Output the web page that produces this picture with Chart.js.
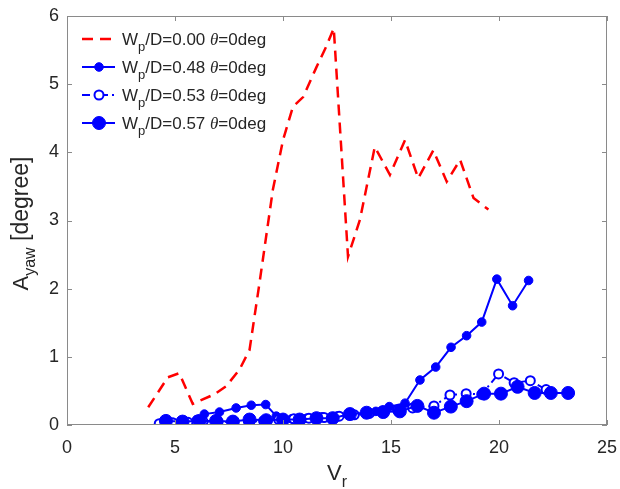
<!DOCTYPE html>
<html>
<head>
<meta charset="utf-8">
<script src="https://cdn.jsdelivr.net/npm/chart.js@4"></script>
<style>
  html, body { margin: 0; padding: 0; background: #fff; }
  #wrap { width: 620px; height: 489px; }
</style>
</head>
<body>
<div id="wrap"><canvas id="myChart"></canvas></div>
<script>
// Wp/D ratios shown in the legend
const ratios = ['0.00', '0.48', '0.53', '0.57'];

// Wp/D = 0.00 (red dashed)
const vr00 = [3.76, 4.67, 5.2, 5.82, 6.82, 7.37, 7.98, 8.45, 8.91, 9.53, 10.0, 10.46, 10.93, 11.55, 12.0, 12.35, 13.01, 13.56, 14.25, 14.95, 15.65, 16.26, 16.96, 17.58, 18.2, 18.82, 19.51];
const a00  = [0.26, 0.70, 0.76, 0.31, 0.45, 0.57, 0.81, 1.1, 2.08, 3.45, 4.18, 4.67, 4.81, 5.25, 5.55, 5.82, 2.47, 3.01, 4.08, 3.67, 4.18, 3.62, 4.03, 3.57, 3.89, 3.33, 3.16];

// Wp/D = 0.48 (small filled dots)
const vr48 = [4.3, 4.9, 5.5, 6.0, 6.36, 7.06, 7.83, 8.53, 9.2, 9.69, 10.4, 11.1, 11.8, 12.5, 13.2, 13.9, 14.3, 14.92, 15.65, 16.34, 17.07, 17.78, 18.5, 19.2, 19.9, 20.63, 21.37];
const a48  = [0.02, 0.04, 0.05, 0.08, 0.16, 0.19, 0.25, 0.29, 0.30, 0.13, 0.09, 0.10, 0.12, 0.13, 0.15, 0.17, 0.20, 0.27, 0.32, 0.66, 0.85, 1.14, 1.31, 1.51, 2.14, 1.75, 2.12];

// Wp/D = 0.53 (open circles, dash-dot)
const vr53 = [4.27, 4.9, 5.6, 6.3, 7.0, 7.7, 8.4, 9.1, 9.8, 10.5, 11.2, 11.9, 12.6, 13.3, 14.0, 14.6, 15.3, 16.0, 16.99, 17.73, 18.48, 19.2, 19.98, 20.7, 21.45, 22.18];
const a53  = [0.02, 0.03, 0.04, 0.05, 0.05, 0.04, 0.05, 0.06, 0.08, 0.09, 0.10, 0.11, 0.13, 0.15, 0.17, 0.20, 0.22, 0.25, 0.28, 0.44, 0.46, 0.45, 0.75, 0.62, 0.65, 0.52];

// Wp/D = 0.57 (big filled dots)
const vr57 = [4.58, 5.35, 6.13, 6.9, 7.68, 8.45, 9.22, 10.0, 10.77, 11.55, 12.3, 13.1, 13.87, 14.64, 15.41, 16.22, 16.99, 17.77, 18.5, 19.31, 20.09, 20.86, 21.65, 22.4, 23.2];
const a57  = [0.06, 0.05, 0.06, 0.06, 0.05, 0.08, 0.07, 0.08, 0.08, 0.10, 0.10, 0.16, 0.18, 0.19, 0.20, 0.28, 0.18, 0.27, 0.35, 0.46, 0.46, 0.56, 0.47, 0.47, 0.47];

const xTicks = [0, 5, 10, 15, 20, 25];
const yTicks = [0, 1, 2, 3, 4, 5, 6];

const pts = (xs, ys) => xs.map((x, i) => ({ x: x, y: ys[i] }));

const FONT = '"Liberation Sans", Arial, sans-serif';
const TEXT = '#262626';
const AXIS = '#8a8a8a';

// draw a run of text pieces (normal / subscript / italic) starting at x
function drawRuns(ctx, runs, x, y, align) {
  let total = 0;
  runs.forEach(r => { ctx.font = r.font; total += ctx.measureText(r.text).width; });
  let cx = align === 'center' ? x - total / 2 : x;
  ctx.textAlign = 'left';
  ctx.textBaseline = 'alphabetic';
  runs.forEach(r => {
    ctx.font = r.font;
    ctx.fillText(r.text, cx, y + (r.dy || 0));
    cx += ctx.measureText(r.text).width;
  });
}

const decor = {
  id: 'decor',
  afterDraw(chart) {
    const ctx = chart.ctx;
    const a = chart.chartArea;
    const xs = chart.scales.x, ys = chart.scales.y;
    ctx.save();
    // box
    ctx.strokeStyle = AXIS;
    ctx.lineWidth = 1;
    ctx.strokeRect(a.left + 0.5, a.top + 0.5, a.right - a.left - 1, a.bottom - a.top - 1);
    // inward ticks on all sides
    const tl = 5;
    ctx.beginPath();
    xTicks.forEach(v => {
      const px = Math.round(xs.getPixelForValue(v)) + 0.5;
      ctx.moveTo(px, a.bottom); ctx.lineTo(px, a.bottom - tl);
      ctx.moveTo(px, a.top); ctx.lineTo(px, a.top + tl);
    });
    yTicks.forEach(v => {
      const py = Math.round(ys.getPixelForValue(v)) + 0.5;
      ctx.moveTo(a.left, py); ctx.lineTo(a.left + tl, py);
      ctx.moveTo(a.right, py); ctx.lineTo(a.right - tl, py);
    });
    ctx.stroke();

    // legend
    ctx.fillStyle = TEXT;
    chart.data.datasets.forEach((ds, i) => {
      const cy = 39 + i * 28;
      ctx.save();
      ctx.strokeStyle = ds.borderColor;
      ctx.lineWidth = ds.borderWidth;
      ctx.setLineDash(ds.borderDash || []);
      ctx.beginPath();
      ctx.moveTo(82, cy); ctx.lineTo(115, cy);
      ctx.stroke();
      ctx.setLineDash([]);
      if (ds.pointRadius > 0) {
        ctx.beginPath();
        ctx.arc(99, cy, ds.pointRadius, 0, Math.PI * 2);
        ctx.fillStyle = ds.pointBackgroundColor;
        ctx.fill();
        ctx.lineWidth = ds.pointBorderWidth;
        ctx.strokeStyle = ds.borderColor;
        ctx.stroke();
      }
      ctx.restore();
      drawRuns(ctx, [
        { text: 'W', font: '17px ' + FONT },
        { text: 'p', font: '13px ' + FONT, dy: 6 },
        { text: '/D=' + ratios[i] + ' ', font: '17px ' + FONT },
        { text: 'θ', font: 'italic 17px "Liberation Serif", serif' },
        { text: '=0deg', font: '17px ' + FONT }
      ], 122, cy + 6, 'left');
    });

    // axis titles
    const midX = (a.left + a.right) / 2;
    drawRuns(ctx, [
      { text: 'V', font: '22px ' + FONT },
      { text: 'r', font: '16px ' + FONT, dy: 7 }
    ], midX, 480, 'center');
    ctx.translate(28, (a.top + a.bottom) / 2 + 3);
    ctx.rotate(-Math.PI / 2);
    drawRuns(ctx, [
      { text: 'A', font: '22px ' + FONT },
      { text: 'yaw', font: '16px ' + FONT, dy: 7 },
      { text: ' [degree]', font: '23px ' + FONT }
    ], 0, 0, 'center');
    ctx.restore();
  }
};

const config = {
  type: 'scatter',
  data: {
    datasets: [
      {
        data: pts(vr00, a00),
        showLine: true,
        borderColor: '#ff0000',
        borderWidth: 2.5,
        borderDash: [11, 7],
        pointRadius: 0,
        order: 3
      },
      {
        data: pts(vr48, a48),
        showLine: true,
        borderColor: '#0000ff',
        borderWidth: 2,
        pointRadius: 4.3,
        pointBackgroundColor: '#0000ff',
        pointBorderWidth: 1,
        order: 2
      },
      {
        data: pts(vr53, a53),
        showLine: true,
        borderColor: '#0000ff',
        borderWidth: 2,
        borderDash: [8, 4, 2, 4],
        pointRadius: 4.5,
        pointBackgroundColor: '#ffffff',
        pointBorderWidth: 2,
        order: 1
      },
      {
        data: pts(vr57, a57),
        showLine: true,
        borderColor: '#0000ff',
        borderWidth: 2,
        pointRadius: 6.5,
        pointBackgroundColor: '#0000ff',
        pointBorderWidth: 1,
        order: 0
      }
    ]
  },
  options: {
    responsive: true,
    maintainAspectRatio: false,
    animation: false,
    layout: { padding: { top: 16, right: 13, left: 0, bottom: 0 } },
    plugins: { legend: { display: false }, tooltip: { enabled: false } },
    scales: {
      x: {
        type: 'linear', min: 0, max: 25,
        afterBuildTicks: s => { s.ticks = xTicks.map(v => ({ value: v })); },
        afterFit: s => { s.height = 64; s.paddingLeft = 0; s.paddingRight = 0; },
        grid: { display: false, drawTicks: false },
        border: { display: false },
        ticks: { color: TEXT, font: { size: 18, family: FONT }, padding: 12, maxRotation: 0 }
      },
      y: {
        type: 'linear', min: 0, max: 6,
        afterBuildTicks: s => { s.ticks = yTicks.map(v => ({ value: v })); },
        afterFit: s => { s.width = 67; s.paddingTop = 0; s.paddingBottom = 0; },
        grid: { display: false, drawTicks: false },
        border: { display: false },
        ticks: { color: TEXT, font: { size: 18, family: FONT }, padding: 8 }
      }
    }
  },
  plugins: [decor]
};

const ctx = document.getElementById('myChart').getContext('2d');
const myChart = new Chart(ctx, config);
</script>
</body>
</html>
